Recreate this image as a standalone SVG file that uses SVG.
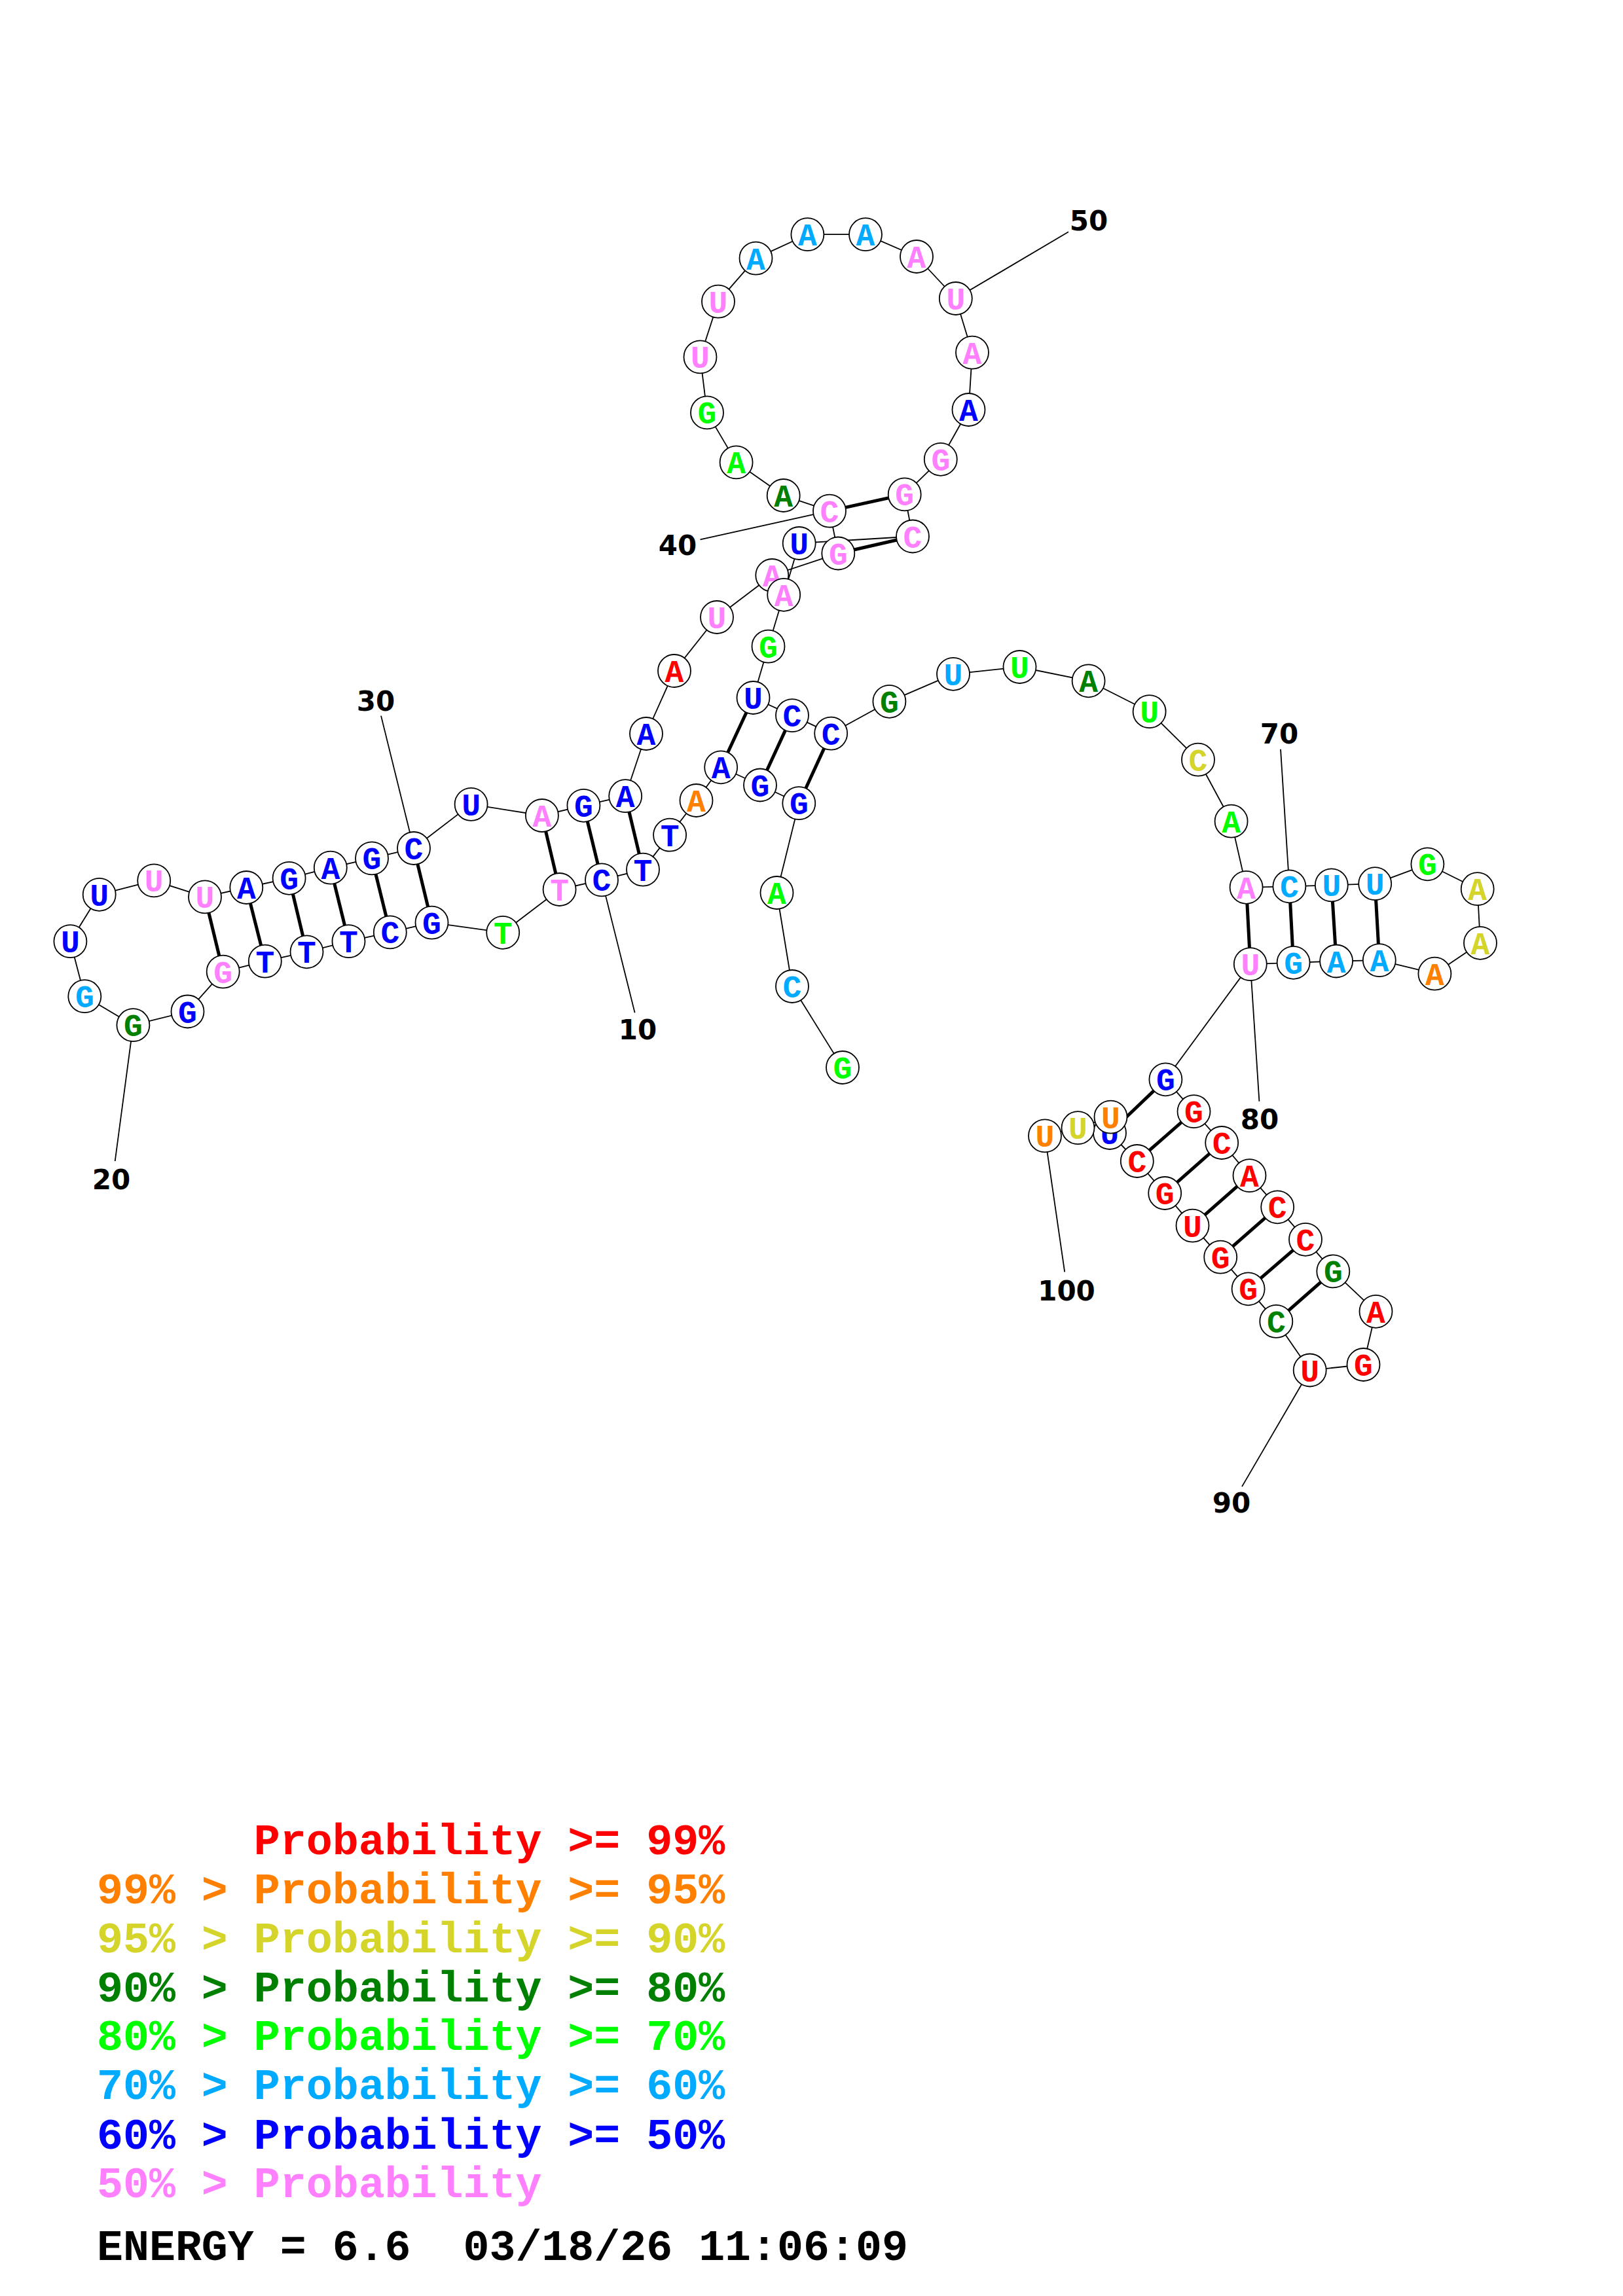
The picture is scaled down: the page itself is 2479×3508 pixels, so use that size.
<svg xmlns="http://www.w3.org/2000/svg" width="2479" height="3508" viewBox="0 0 2479 3508">
<style>
.bb line{stroke:#000;stroke-width:1.8}
.pr line{stroke:#000;stroke-width:5}
.lb line{stroke:#000;stroke-width:1.8}
circle{fill:#fff;stroke:#000;stroke-width:1.8}
.n{font-family:"Liberation Mono",monospace;font-weight:bold;font-size:48px;text-anchor:middle}
.num{font-family:"DejaVu Sans",sans-serif;font-weight:bold;font-size:42px;text-anchor:middle;fill:#000}
.lg{font-family:"Liberation Mono",monospace;font-weight:bold;font-size:66.6px}
.r{fill:#ff0000}.o{fill:#ff8000}.y{fill:#d4d42b}.d{fill:#008000}.g{fill:#00ff00}.c{fill:#00aaff}.b{fill:#0000ff}.p{fill:#ff80ff}.k{fill:#000}
</style>
<rect width="2479" height="3508" fill="#fff"/>
<g id="connectors">
<g class="bb">
<line x1="1287" y1="1631" x2="1210" y2="1507"/>
<line x1="1210" y1="1507" x2="1186.5" y2="1364"/>
<line x1="1186.5" y1="1364" x2="1220.3" y2="1227.2"/>
<line x1="1220.3" y1="1227.2" x2="1161" y2="1199.5"/>
<line x1="1161" y1="1199.5" x2="1101.2" y2="1172.3"/>
<line x1="1101.2" y1="1172.3" x2="1063.5" y2="1223"/>
<line x1="1063.5" y1="1223" x2="1023.1" y2="1275.7"/>
<line x1="1023.1" y1="1275.7" x2="982" y2="1328.6"/>
<line x1="982" y1="1328.6" x2="919" y2="1344.4"/>
<line x1="919" y1="1344.4" x2="854.6" y2="1359"/>
<line x1="854.6" y1="1359" x2="768.2" y2="1424.8"/>
<line x1="768.2" y1="1424.8" x2="659.5" y2="1409.6"/>
<line x1="659.5" y1="1409.6" x2="595.8" y2="1424.4"/>
<line x1="595.8" y1="1424.4" x2="532.5" y2="1438.2"/>
<line x1="532.5" y1="1438.2" x2="468.5" y2="1454.3"/>
<line x1="468.5" y1="1454.3" x2="404.8" y2="1468.6"/>
<line x1="404.8" y1="1468.6" x2="340.7" y2="1484.6"/>
<line x1="340.7" y1="1484.6" x2="286.5" y2="1545.5"/>
<line x1="286.5" y1="1545.5" x2="203.4" y2="1566.2"/>
<line x1="203.4" y1="1566.2" x2="129.3" y2="1522.2"/>
<line x1="129.3" y1="1522.2" x2="107.4" y2="1438.2"/>
<line x1="107.4" y1="1438.2" x2="151.7" y2="1366.8"/>
<line x1="151.7" y1="1366.8" x2="235.2" y2="1345.4"/>
<line x1="235.2" y1="1345.4" x2="313" y2="1370.4"/>
<line x1="313" y1="1370.4" x2="376.3" y2="1356"/>
<line x1="376.3" y1="1356" x2="441.6" y2="1341.8"/>
<line x1="441.6" y1="1341.8" x2="504.8" y2="1325.7"/>
<line x1="504.8" y1="1325.7" x2="568" y2="1311.4"/>
<line x1="568" y1="1311.4" x2="632" y2="1296"/>
<line x1="632" y1="1296" x2="719.6" y2="1228.9"/>
<line x1="719.6" y1="1228.9" x2="827.9" y2="1246"/>
<line x1="827.9" y1="1246" x2="891.4" y2="1230.8"/>
<line x1="891.4" y1="1230.8" x2="955.2" y2="1216.2"/>
<line x1="955.2" y1="1216.2" x2="987" y2="1121"/>
<line x1="987" y1="1121" x2="1030" y2="1025"/>
<line x1="1030" y1="1025" x2="1095" y2="943"/>
<line x1="1095" y1="943" x2="1179.3" y2="879"/>
<line x1="1179.3" y1="879" x2="1280.3" y2="845.5"/>
<line x1="1280.3" y1="845.5" x2="1267" y2="780.7"/>
<line x1="1267" y1="780.7" x2="1196.7" y2="757"/>
<line x1="1196.7" y1="757" x2="1124.6" y2="706.4"/>
<line x1="1124.6" y1="706.4" x2="1080" y2="630.4"/>
<line x1="1080" y1="630.4" x2="1069.5" y2="545.4"/>
<line x1="1069.5" y1="545.4" x2="1097" y2="460.7"/>
<line x1="1097" y1="460.7" x2="1154.5" y2="394.6"/>
<line x1="1154.5" y1="394.6" x2="1233.4" y2="358.2"/>
<line x1="1233.4" y1="358.2" x2="1322" y2="358.2"/>
<line x1="1322" y1="358.2" x2="1400" y2="392"/>
<line x1="1400" y1="392" x2="1459.8" y2="456"/>
<line x1="1459.8" y1="456" x2="1485" y2="538.6"/>
<line x1="1485" y1="538.6" x2="1479.5" y2="626"/>
<line x1="1479.5" y1="626" x2="1436.8" y2="701.8"/>
<line x1="1436.8" y1="701.8" x2="1381.7" y2="755.4"/>
<line x1="1381.7" y1="755.4" x2="1394" y2="819.5"/>
<line x1="1394" y1="819.5" x2="1220.7" y2="830"/>
<line x1="1220.7" y1="830" x2="1197.2" y2="908.8"/>
<line x1="1197.2" y1="908.8" x2="1173.5" y2="987.6"/>
<line x1="1173.5" y1="987.6" x2="1150.5" y2="1066"/>
<line x1="1150.5" y1="1066" x2="1210" y2="1093.1"/>
<line x1="1210" y1="1093.1" x2="1269.2" y2="1120.6"/>
<line x1="1269.2" y1="1120.6" x2="1358.4" y2="1071.8"/>
<line x1="1358.4" y1="1071.8" x2="1456" y2="1029.8"/>
<line x1="1456" y1="1029.8" x2="1557.5" y2="1019"/>
<line x1="1557.5" y1="1019" x2="1662.6" y2="1040.3"/>
<line x1="1662.6" y1="1040.3" x2="1755.6" y2="1087.2"/>
<line x1="1755.6" y1="1087.2" x2="1830" y2="1160.7"/>
<line x1="1830" y1="1160.7" x2="1880.6" y2="1254.7"/>
<line x1="1880.6" y1="1254.7" x2="1903.6" y2="1355.8"/>
<line x1="1903.6" y1="1355.8" x2="1969.4" y2="1354.3"/>
<line x1="1969.4" y1="1354.3" x2="2033.8" y2="1352.4"/>
<line x1="2033.8" y1="1352.4" x2="2100.2" y2="1350.2"/>
<line x1="2100.2" y1="1350.2" x2="2180.4" y2="1320.3"/>
<line x1="2180.4" y1="1320.3" x2="2256.7" y2="1358.2"/>
<line x1="2256.7" y1="1358.2" x2="2261" y2="1440.8"/>
<line x1="2261" y1="1440.8" x2="2191.4" y2="1487.7"/>
<line x1="2191.4" y1="1487.7" x2="2106.8" y2="1467.1"/>
<line x1="2106.8" y1="1467.1" x2="2041.1" y2="1468.5"/>
<line x1="2041.1" y1="1468.5" x2="1975.6" y2="1470.8"/>
<line x1="1975.6" y1="1470.8" x2="1909.8" y2="1473.1"/>
<line x1="1909.8" y1="1473.1" x2="1780.4" y2="1649.3"/>
<line x1="1780.4" y1="1649.3" x2="1823.5" y2="1698.2"/>
<line x1="1823.5" y1="1698.2" x2="1866.2" y2="1746"/>
<line x1="1866.2" y1="1746" x2="1908.5" y2="1796.1"/>
<line x1="1908.5" y1="1796.1" x2="1951.2" y2="1844.3"/>
<line x1="1951.2" y1="1844.3" x2="1994" y2="1893.8"/>
<line x1="1994" y1="1893.8" x2="2036.3" y2="1942.4"/>
<line x1="2036.3" y1="1942.4" x2="2101.5" y2="2003.8"/>
<line x1="2101.5" y1="2003.8" x2="2082.5" y2="2085"/>
<line x1="2082.5" y1="2085" x2="2000.7" y2="2093.5"/>
<line x1="2000.7" y1="2093.5" x2="1949.3" y2="2018.9"/>
<line x1="1949.3" y1="2018.9" x2="1906.6" y2="1969.3"/>
<line x1="1906.6" y1="1969.3" x2="1864.2" y2="1920.7"/>
<line x1="1864.2" y1="1920.7" x2="1821.5" y2="1872.6"/>
<line x1="1821.5" y1="1872.6" x2="1779.2" y2="1823"/>
<line x1="1779.2" y1="1823" x2="1736.8" y2="1774"/>
<line x1="1736.8" y1="1774" x2="1695" y2="1731"/>
<line x1="1695" y1="1731" x2="1696.5" y2="1706.6"/>
<line x1="1696.5" y1="1706.6" x2="1646.5" y2="1723.2"/>
<line x1="1646.5" y1="1723.2" x2="1596" y2="1735.4"/>
</g>
<g class="pr">
<line x1="1220.3" y1="1227.2" x2="1269.2" y2="1120.6"/>
<line x1="1161" y1="1199.5" x2="1210" y2="1093.1"/>
<line x1="1101.2" y1="1172.3" x2="1150.5" y2="1066"/>
<line x1="982" y1="1328.6" x2="955.2" y2="1216.2"/>
<line x1="919" y1="1344.4" x2="891.4" y2="1230.8"/>
<line x1="854.6" y1="1359" x2="827.9" y2="1246"/>
<line x1="659.5" y1="1409.6" x2="632" y2="1296"/>
<line x1="595.8" y1="1424.4" x2="568" y2="1311.4"/>
<line x1="532.5" y1="1438.2" x2="504.8" y2="1325.7"/>
<line x1="468.5" y1="1454.3" x2="441.6" y2="1341.8"/>
<line x1="404.8" y1="1468.6" x2="376.3" y2="1356"/>
<line x1="340.7" y1="1484.6" x2="313" y2="1370.4"/>
<line x1="1280.3" y1="845.5" x2="1394" y2="819.5"/>
<line x1="1267" y1="780.7" x2="1381.7" y2="755.4"/>
<line x1="1903.6" y1="1355.8" x2="1909.8" y2="1473.1"/>
<line x1="1969.4" y1="1354.3" x2="1975.6" y2="1470.8"/>
<line x1="2033.8" y1="1352.4" x2="2041.1" y2="1468.5"/>
<line x1="2100.2" y1="1350.2" x2="2106.8" y2="1467.1"/>
<line x1="1780.4" y1="1649.3" x2="1695" y2="1731"/>
<line x1="1823.5" y1="1698.2" x2="1736.8" y2="1774"/>
<line x1="1866.2" y1="1746" x2="1779.2" y2="1823"/>
<line x1="1908.5" y1="1796.1" x2="1821.5" y2="1872.6"/>
<line x1="1951.2" y1="1844.3" x2="1864.2" y2="1920.7"/>
<line x1="1994" y1="1893.8" x2="1906.6" y2="1969.3"/>
<line x1="2036.3" y1="1942.4" x2="1949.3" y2="2018.9"/>
</g>
<g class="lb">
<line x1="969.6" y1="1547.3" x2="919" y2="1344.4"/>
<line x1="175.7" y1="1774" x2="203.4" y2="1566.2"/>
<line x1="582" y1="1093.6" x2="632" y2="1296"/>
<line x1="1069.5" y1="824.3" x2="1267" y2="780.7"/>
<line x1="1632" y1="354.3" x2="1459.8" y2="456"/>
<line x1="1956" y1="1144.7" x2="1969.4" y2="1354.3"/>
<line x1="1923.4" y1="1682.8" x2="1909.8" y2="1473.1"/>
<line x1="1897" y1="2271.4" x2="2000.7" y2="2093.5"/>
<line x1="1626.2" y1="1943.4" x2="1596" y2="1735.4"/>
</g>
</g>
<g id="nodes">
<g id="n1"><circle cx="1287" cy="1631" r="25"/><text class="n g" x="1287" y="1648">G</text></g>
<g id="n2"><circle cx="1210" cy="1507" r="25"/><text class="n c" x="1210" y="1524">C</text></g>
<g id="n3"><circle cx="1186.5" cy="1364" r="25"/><text class="n g" x="1186.5" y="1381">A</text></g>
<g id="n4"><circle cx="1220.3" cy="1227.2" r="25"/><text class="n b" x="1220.3" y="1244.2">G</text></g>
<g id="n5"><circle cx="1161" cy="1199.5" r="25"/><text class="n b" x="1161" y="1216.5">G</text></g>
<g id="n6"><circle cx="1101.2" cy="1172.3" r="25"/><text class="n b" x="1101.2" y="1189.3">A</text></g>
<g id="n7"><circle cx="1063.5" cy="1223" r="25"/><text class="n o" x="1063.5" y="1240">A</text></g>
<g id="n8"><circle cx="1023.1" cy="1275.7" r="25"/><text class="n b" x="1023.1" y="1292.7">T</text></g>
<g id="n9"><circle cx="982" cy="1328.6" r="25"/><text class="n b" x="982" y="1345.6">T</text></g>
<g id="n10"><circle cx="919" cy="1344.4" r="25"/><text class="n b" x="919" y="1361.4">C</text></g>
<g id="n11"><circle cx="854.6" cy="1359" r="25"/><text class="n p" x="854.6" y="1376">T</text></g>
<g id="n12"><circle cx="768.2" cy="1424.8" r="25"/><text class="n g" x="768.2" y="1441.8">T</text></g>
<g id="n13"><circle cx="659.5" cy="1409.6" r="25"/><text class="n b" x="659.5" y="1426.6">G</text></g>
<g id="n14"><circle cx="595.8" cy="1424.4" r="25"/><text class="n b" x="595.8" y="1441.4">C</text></g>
<g id="n15"><circle cx="532.5" cy="1438.2" r="25"/><text class="n b" x="532.5" y="1455.2">T</text></g>
<g id="n16"><circle cx="468.5" cy="1454.3" r="25"/><text class="n b" x="468.5" y="1471.3">T</text></g>
<g id="n17"><circle cx="404.8" cy="1468.6" r="25"/><text class="n b" x="404.8" y="1485.6">T</text></g>
<g id="n18"><circle cx="340.7" cy="1484.6" r="25"/><text class="n p" x="340.7" y="1501.6">G</text></g>
<g id="n19"><circle cx="286.5" cy="1545.5" r="25"/><text class="n b" x="286.5" y="1562.5">G</text></g>
<g id="n20"><circle cx="203.4" cy="1566.2" r="25"/><text class="n d" x="203.4" y="1583.2">G</text></g>
<g id="n21"><circle cx="129.3" cy="1522.2" r="25"/><text class="n c" x="129.3" y="1539.2">G</text></g>
<g id="n22"><circle cx="107.4" cy="1438.2" r="25"/><text class="n b" x="107.4" y="1455.2">U</text></g>
<g id="n23"><circle cx="151.7" cy="1366.8" r="25"/><text class="n b" x="151.7" y="1383.8">U</text></g>
<g id="n24"><circle cx="235.2" cy="1345.4" r="25"/><text class="n p" x="235.2" y="1362.4">U</text></g>
<g id="n25"><circle cx="313" cy="1370.4" r="25"/><text class="n p" x="313" y="1387.4">U</text></g>
<g id="n26"><circle cx="376.3" cy="1356" r="25"/><text class="n b" x="376.3" y="1373">A</text></g>
<g id="n27"><circle cx="441.6" cy="1341.8" r="25"/><text class="n b" x="441.6" y="1358.8">G</text></g>
<g id="n28"><circle cx="504.8" cy="1325.7" r="25"/><text class="n b" x="504.8" y="1342.7">A</text></g>
<g id="n29"><circle cx="568" cy="1311.4" r="25"/><text class="n b" x="568" y="1328.4">G</text></g>
<g id="n30"><circle cx="632" cy="1296" r="25"/><text class="n b" x="632" y="1313">C</text></g>
<g id="n31"><circle cx="719.6" cy="1228.9" r="25"/><text class="n b" x="719.6" y="1245.9">U</text></g>
<g id="n32"><circle cx="827.9" cy="1246" r="25"/><text class="n p" x="827.9" y="1263">A</text></g>
<g id="n33"><circle cx="891.4" cy="1230.8" r="25"/><text class="n b" x="891.4" y="1247.8">G</text></g>
<g id="n34"><circle cx="955.2" cy="1216.2" r="25"/><text class="n b" x="955.2" y="1233.2">A</text></g>
<g id="n35"><circle cx="987" cy="1121" r="25"/><text class="n b" x="987" y="1138">A</text></g>
<g id="n36"><circle cx="1030" cy="1025" r="25"/><text class="n r" x="1030" y="1042">A</text></g>
<g id="n37"><circle cx="1095" cy="943" r="25"/><text class="n p" x="1095" y="960">U</text></g>
<g id="n38"><circle cx="1179.3" cy="879" r="25"/><text class="n p" x="1179.3" y="896">A</text></g>
<g id="n39"><circle cx="1280.3" cy="845.5" r="25"/><text class="n p" x="1280.3" y="862.5">G</text></g>
<g id="n40"><circle cx="1267" cy="780.7" r="25"/><text class="n p" x="1267" y="797.7">C</text></g>
<g id="n41"><circle cx="1196.7" cy="757" r="25"/><text class="n d" x="1196.7" y="774">A</text></g>
<g id="n42"><circle cx="1124.6" cy="706.4" r="25"/><text class="n g" x="1124.6" y="723.4">A</text></g>
<g id="n43"><circle cx="1080" cy="630.4" r="25"/><text class="n g" x="1080" y="647.4">G</text></g>
<g id="n44"><circle cx="1069.5" cy="545.4" r="25"/><text class="n p" x="1069.5" y="562.4">U</text></g>
<g id="n45"><circle cx="1097" cy="460.7" r="25"/><text class="n p" x="1097" y="477.7">U</text></g>
<g id="n46"><circle cx="1154.5" cy="394.6" r="25"/><text class="n c" x="1154.5" y="411.6">A</text></g>
<g id="n47"><circle cx="1233.4" cy="358.2" r="25"/><text class="n c" x="1233.4" y="375.2">A</text></g>
<g id="n48"><circle cx="1322" cy="358.2" r="25"/><text class="n c" x="1322" y="375.2">A</text></g>
<g id="n49"><circle cx="1400" cy="392" r="25"/><text class="n p" x="1400" y="409">A</text></g>
<g id="n50"><circle cx="1459.8" cy="456" r="25"/><text class="n p" x="1459.8" y="473">U</text></g>
<g id="n51"><circle cx="1485" cy="538.6" r="25"/><text class="n p" x="1485" y="555.6">A</text></g>
<g id="n52"><circle cx="1479.5" cy="626" r="25"/><text class="n b" x="1479.5" y="643">A</text></g>
<g id="n53"><circle cx="1436.8" cy="701.8" r="25"/><text class="n p" x="1436.8" y="718.8">G</text></g>
<g id="n54"><circle cx="1381.7" cy="755.4" r="25"/><text class="n p" x="1381.7" y="772.4">G</text></g>
<g id="n55"><circle cx="1394" cy="819.5" r="25"/><text class="n p" x="1394" y="836.5">C</text></g>
<g id="n56"><circle cx="1220.7" cy="830" r="25"/><text class="n b" x="1220.7" y="847">U</text></g>
<g id="n57"><circle cx="1197.2" cy="908.8" r="25"/><text class="n p" x="1197.2" y="925.8">A</text></g>
<g id="n58"><circle cx="1173.5" cy="987.6" r="25"/><text class="n g" x="1173.5" y="1004.6">G</text></g>
<g id="n59"><circle cx="1150.5" cy="1066" r="25"/><text class="n b" x="1150.5" y="1083">U</text></g>
<g id="n60"><circle cx="1210" cy="1093.1" r="25"/><text class="n b" x="1210" y="1110.1">C</text></g>
<g id="n61"><circle cx="1269.2" cy="1120.6" r="25"/><text class="n b" x="1269.2" y="1137.6">C</text></g>
<g id="n62"><circle cx="1358.4" cy="1071.8" r="25"/><text class="n d" x="1358.4" y="1088.8">G</text></g>
<g id="n63"><circle cx="1456" cy="1029.8" r="25"/><text class="n c" x="1456" y="1046.8">U</text></g>
<g id="n64"><circle cx="1557.5" cy="1019" r="25"/><text class="n g" x="1557.5" y="1036">U</text></g>
<g id="n65"><circle cx="1662.6" cy="1040.3" r="25"/><text class="n d" x="1662.6" y="1057.3">A</text></g>
<g id="n66"><circle cx="1755.6" cy="1087.2" r="25"/><text class="n g" x="1755.6" y="1104.2">U</text></g>
<g id="n67"><circle cx="1830" cy="1160.7" r="25"/><text class="n y" x="1830" y="1177.7">C</text></g>
<g id="n68"><circle cx="1880.6" cy="1254.7" r="25"/><text class="n g" x="1880.6" y="1271.7">A</text></g>
<g id="n69"><circle cx="1903.6" cy="1355.8" r="25"/><text class="n p" x="1903.6" y="1372.8">A</text></g>
<g id="n70"><circle cx="1969.4" cy="1354.3" r="25"/><text class="n c" x="1969.4" y="1371.3">C</text></g>
<g id="n71"><circle cx="2033.8" cy="1352.4" r="25"/><text class="n c" x="2033.8" y="1369.4">U</text></g>
<g id="n72"><circle cx="2100.2" cy="1350.2" r="25"/><text class="n c" x="2100.2" y="1367.2">U</text></g>
<g id="n73"><circle cx="2180.4" cy="1320.3" r="25"/><text class="n g" x="2180.4" y="1337.3">G</text></g>
<g id="n74"><circle cx="2256.7" cy="1358.2" r="25"/><text class="n y" x="2256.7" y="1375.2">A</text></g>
<g id="n75"><circle cx="2261" cy="1440.8" r="25"/><text class="n y" x="2261" y="1457.8">A</text></g>
<g id="n76"><circle cx="2191.4" cy="1487.7" r="25"/><text class="n o" x="2191.4" y="1504.7">A</text></g>
<g id="n77"><circle cx="2106.8" cy="1467.1" r="25"/><text class="n c" x="2106.8" y="1484.1">A</text></g>
<g id="n78"><circle cx="2041.1" cy="1468.5" r="25"/><text class="n c" x="2041.1" y="1485.5">A</text></g>
<g id="n79"><circle cx="1975.6" cy="1470.8" r="25"/><text class="n c" x="1975.6" y="1487.8">G</text></g>
<g id="n80"><circle cx="1909.8" cy="1473.1" r="25"/><text class="n p" x="1909.8" y="1490.1">U</text></g>
<g id="n81"><circle cx="1780.4" cy="1649.3" r="25"/><text class="n b" x="1780.4" y="1666.3">G</text></g>
<g id="n82"><circle cx="1823.5" cy="1698.2" r="25"/><text class="n r" x="1823.5" y="1715.2">G</text></g>
<g id="n83"><circle cx="1866.2" cy="1746" r="25"/><text class="n r" x="1866.2" y="1763">C</text></g>
<g id="n84"><circle cx="1908.5" cy="1796.1" r="25"/><text class="n r" x="1908.5" y="1813.1">A</text></g>
<g id="n85"><circle cx="1951.2" cy="1844.3" r="25"/><text class="n r" x="1951.2" y="1861.3">C</text></g>
<g id="n86"><circle cx="1994" cy="1893.8" r="25"/><text class="n r" x="1994" y="1910.8">C</text></g>
<g id="n87"><circle cx="2036.3" cy="1942.4" r="25"/><text class="n d" x="2036.3" y="1959.4">G</text></g>
<g id="n88"><circle cx="2101.5" cy="2003.8" r="25"/><text class="n r" x="2101.5" y="2020.8">A</text></g>
<g id="n89"><circle cx="2082.5" cy="2085" r="25"/><text class="n r" x="2082.5" y="2102">G</text></g>
<g id="n90"><circle cx="2000.7" cy="2093.5" r="25"/><text class="n r" x="2000.7" y="2110.5">U</text></g>
<g id="n91"><circle cx="1949.3" cy="2018.9" r="25"/><text class="n d" x="1949.3" y="2035.9">C</text></g>
<g id="n92"><circle cx="1906.6" cy="1969.3" r="25"/><text class="n r" x="1906.6" y="1986.3">G</text></g>
<g id="n93"><circle cx="1864.2" cy="1920.7" r="25"/><text class="n r" x="1864.2" y="1937.7">G</text></g>
<g id="n94"><circle cx="1821.5" cy="1872.6" r="25"/><text class="n r" x="1821.5" y="1889.6">U</text></g>
<g id="n95"><circle cx="1779.2" cy="1823" r="25"/><text class="n r" x="1779.2" y="1840">G</text></g>
<g id="n96"><circle cx="1736.8" cy="1774" r="25"/><text class="n r" x="1736.8" y="1791">C</text></g>
<g id="n97"><circle cx="1695" cy="1731" r="25"/><text class="n b" x="1695" y="1748">U</text></g>
<g id="n98"><circle cx="1696.5" cy="1706.6" r="25"/><text class="n o" x="1696.5" y="1723.6">U</text></g>
<g id="n99"><circle cx="1646.5" cy="1723.2" r="25"/><text class="n y" x="1646.5" y="1740.2">U</text></g>
<g id="n100"><circle cx="1596" cy="1735.4" r="25"/><text class="n o" x="1596" y="1752.4">U</text></g>
</g>
<g id="labels">
<text class="num" x="974" y="1588">10</text>
<text class="num" x="170" y="1817">20</text>
<text class="num" x="574" y="1086">30</text>
<text class="num" x="1035" y="848">40</text>
<text class="num" x="1663" y="352">50</text>
<text class="num" x="1954" y="1136">70</text>
<text class="num" x="1924" y="1725">80</text>
<text class="num" x="1881" y="2311">90</text>
<text class="num" x="1629" y="1987">100</text>
</g>
<g id="legend">
<text class="lg r" x="387.8" y="2833">Probability &gt;= 99%</text>
<text class="lg o" x="148" y="2908">99% &gt; Probability &gt;= 95%</text>
<text class="lg y" x="148" y="2983">95% &gt; Probability &gt;= 90%</text>
<text class="lg d" x="148" y="3058">90% &gt; Probability &gt;= 80%</text>
<text class="lg g" x="148" y="3132">80% &gt; Probability &gt;= 70%</text>
<text class="lg c" x="148" y="3207">70% &gt; Probability &gt;= 60%</text>
<text class="lg b" x="148" y="3283">60% &gt; Probability &gt;= 50%</text>
<text class="lg p" x="148" y="3357">50% &gt; Probability</text>
<text class="lg k" x="148" y="3453" xml:space="preserve">ENERGY = 6.6  03/18/26 11:06:09</text>
</g>
</svg>
